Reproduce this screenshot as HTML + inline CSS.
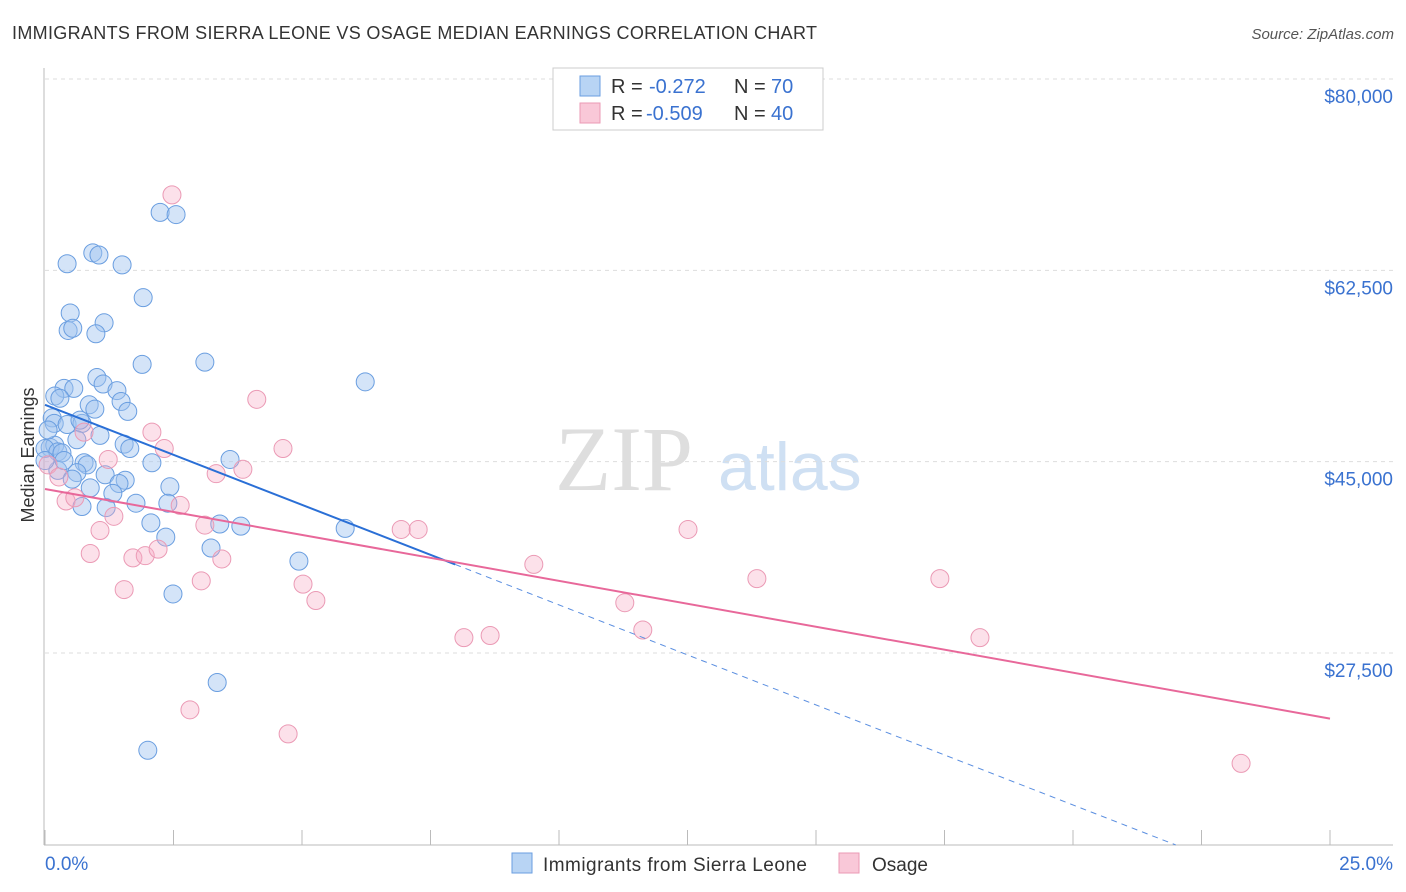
<!DOCTYPE html>
<html><head><meta charset="utf-8"><style>
body{margin:0;background:#fff;font-family:"Liberation Sans",sans-serif;}
</style></head><body>
<svg id="c" width="1406" height="892" xmlns="http://www.w3.org/2000/svg" style="position:absolute;left:0;top:0">
<text x="12" y="39" font-size="18" fill="#333" textLength="805">IMMIGRANTS FROM SIERRA LEONE VS OSAGE MEDIAN EARNINGS CORRELATION CHART</text>
<text x="1394" y="39" font-size="15" fill="#555" font-style="italic" text-anchor="end">Source: ZipAtlas.com</text>
<text x="555" y="490" font-size="92" fill="#dedede" font-family="Liberation Serif,serif">ZIP</text>
<text x="718" y="490" font-size="68" fill="#cfe0f3">atlas</text>
<g id="grid"></g><g id="axes"></g><g id="pts"></g><g id="trend"></g>
<text transform="translate(34,455) rotate(-90)" font-size="18" fill="#333" text-anchor="middle">Median Earnings</text>
<g>
<rect x="553" y="68" width="270" height="62" fill="#fff" stroke="#ccc"/>
<rect x="580" y="76" width="20" height="20" fill="#b8d4f4" stroke="#6a9ee0"/>
<rect x="580" y="103" width="20" height="20" fill="#f9c8d8" stroke="#eb9ab5"/>
<text y="93" font-size="20" fill="#333"><tspan x="611">R =</tspan><tspan x="649" fill="#3a72d0">-0.272</tspan><tspan x="734">N =</tspan><tspan x="771" fill="#3a72d0">70</tspan></text>
<text y="120" font-size="20" fill="#333"><tspan x="611">R =</tspan><tspan x="646" fill="#3a72d0">-0.509</tspan><tspan x="734">N =</tspan><tspan x="771" fill="#3a72d0">40</tspan></text>
</g>
<g>
<rect x="512" y="853" width="20" height="20" fill="#b8d4f4" stroke="#6a9ee0"/>
<text x="543" y="871" font-size="19" fill="#333" textLength="264">Immigrants from Sierra Leone</text>
<rect x="839" y="853" width="20" height="20" fill="#f9c8d8" stroke="#eb9ab5"/>
<text x="872" y="871" font-size="19" fill="#333" textLength="56">Osage</text>
</g>
</svg>
<script>
const yTicks=[80000,62500,45000,27500];
const yTickLabels=["$80,000","$62,500","$45,000","$27,500"];
const xTickLabels=["0.0%","25.0%"];
const blueX=[2.24,2.55,0.43,0.93,1.05,1.50,1.91,0.49,1.15,0.45,0.54,0.99,1.89,3.11,6.23,1.01,0.37,0.56,1.13,1.40,0.19,0.29,0.86,0.97,1.48,1.61,0.14,0.18,0.43,0.72,0.68,1.07,0.62,1.54,1.65,0.10,0.19,0.0,0.25,0.33,2.08,3.60,0.76,0.82,0.25,1.17,0.62,0.53,1.56,1.44,0.88,1.32,2.43,0.72,1.19,1.77,2.39,2.06,3.40,3.81,5.84,2.35,3.23,4.94,2.49,3.35,2.00,0.0,0.06,0.37];
const blueY=[67.8,67.6,63.1,64.1,63.9,63.0,60.0,58.6,57.7,57.0,57.2,56.7,53.9,54.1,52.3,52.7,51.7,51.7,52.1,51.5,51.0,50.8,50.2,49.8,50.5,49.6,49.0,48.5,48.4,48.5,48.8,47.4,47.0,46.6,46.2,46.3,46.5,46.2,45.9,45.8,44.9,45.2,44.9,44.7,44.2,43.8,44.0,43.4,43.3,43.0,42.6,42.1,42.7,40.9,40.8,41.2,41.2,39.4,39.3,39.1,38.9,38.1,37.1,35.9,32.9,24.8,18.6,45.1,47.9,45.1];
const pinkX=[2.47,4.12,2.08,0.76,2.32,4.63,1.23,0.06,3.85,3.33,0.27,0.41,0.58,2.63,1.34,1.07,3.11,6.93,7.26,12.51,0.88,1.71,1.95,2.20,3.44,9.51,3.04,5.02,13.85,17.41,1.54,5.27,11.28,11.63,8.66,8.15,18.19,2.82,4.73,23.27];
const pinkY=[69.4,50.7,47.7,47.7,46.2,46.2,45.2,44.7,44.3,43.9,43.6,41.4,41.7,41.0,40.0,38.7,39.2,38.8,38.8,38.8,36.6,36.2,36.4,37.0,36.1,35.6,34.1,33.8,34.3,34.3,33.3,32.3,32.1,29.6,29.1,28.9,28.9,22.3,20.1,17.4];
const blueTrend=[50.2,-1.83];
const pinkTrend=[42.5,-0.84];
const NS="http://www.w3.org/2000/svg";
const xs=p=>45+p*51.4;
const ys=v=>79+(80000-v)*0.010933;
function mk(t,a,par){const e=document.createElementNS(NS,t);for(const k in a)e.setAttribute(k,a[k]);document.getElementById(par).appendChild(e);return e;}
yTicks.forEach((v,i)=>{
 const l=mk('line',{x1:45,x2:1393,y1:ys(v),y2:ys(v),stroke:'#ddd','stroke-dasharray':'4,4'},'grid');
 
 
 const t=mk('text',{x:1393,y:ys(v)+24,'font-size':19,fill:'#3a72d0','text-anchor':'end'},'grid');
 t.textContent=yTickLabels[i];
 
 
});
mk('line',{x1:44,x2:44,y1:68,y2:845,stroke:'#bbb'},'axes');
mk('line',{x1:44,x2:1393,y1:845,y2:845,stroke:'#bbb'},'axes');
for(let i=0;i<=10;i++){const x=xs(i*2.5);mk('line',{x1:x,x2:x,y1:830,y2:845,stroke:'#bbb'},'axes');}
[[45,'start'],[1393,'end']].forEach((d,i)=>{const t=mk('text',{x:d[0],y:870,'font-size':19,fill:'#3a72d0','text-anchor':d[1]},'axes');t.textContent=xTickLabels[i];
 
 });
blueX.forEach((p,i)=>{const c=mk('circle',{cx:xs(p),cy:ys(blueY[i]*1000),r:9,fill:'rgba(160,196,240,0.45)',stroke:'#6a9ee0','stroke-width':1},'pts');
 
 });
pinkX.forEach((p,i)=>{const c=mk('circle',{cx:xs(p),cy:ys(pinkY[i]*1000),r:9,fill:'rgba(245,170,195,0.35)',stroke:'#eb9ab5','stroke-width':1},'pts');
 
 });
const bv=p=>(blueTrend[0]+blueTrend[1]*p)*1000, pv=p=>(pinkTrend[0]+pinkTrend[1]*p)*1000;
const bEnd=7.98, bBot=(blueTrend[0]-9.94)/-blueTrend[1];
let l1=mk('line',{x1:xs(0),y1:ys(bv(0)),x2:xs(bEnd),y2:ys(bv(bEnd)),stroke:'#2a6fd6','stroke-width':2},'trend');


let l2=mk('line',{x1:xs(bEnd),y1:ys(bv(bEnd)),x2:xs(bBot),y2:ys(bv(bBot)),stroke:'#5a8ee0','stroke-width':1,'stroke-dasharray':'6,5'},'trend');


let l3=mk('line',{x1:xs(0),y1:ys(pv(0)),x2:xs(25),y2:ys(pv(25)),stroke:'#e8689a','stroke-width':2},'trend');


</script>
</body></html>
